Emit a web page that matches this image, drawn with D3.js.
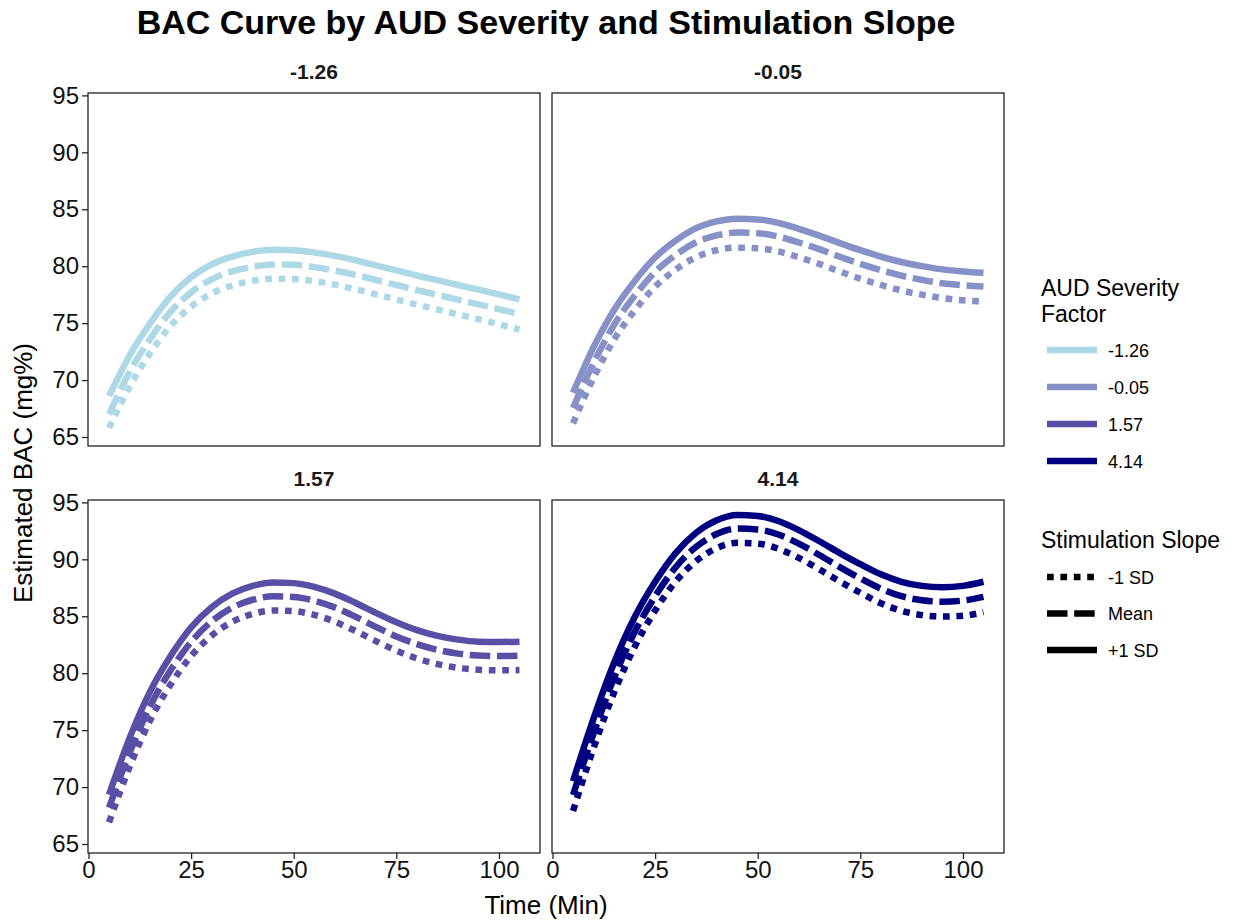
<!DOCTYPE html>
<meta charset="utf-8">
<html>
<head>
<title>BAC Curve</title>
<script src="https://cdn.jsdelivr.net/npm/d3@7"></script>
<style>
  body { margin: 0; background: #fff; }
  text { font-family: "Liberation Sans", Arial, sans-serif; }
</style>
</head>
<body>
<script>
// facet levels and legend entries
var severities = ["-1.26", "-0.05", "1.57", "4.14"]
var severityColors = ["#add8e6", "#8791c8", "#5750a6", "#000080"]
var slopes = ["-1 SD", "Mean", "+1 SD"]
var time = [5, 10, 15, 20, 25, 30, 35, 40, 45, 50, 55, 60, 65, 70, 75, 80, 85, 90, 95, 100, 105]
var xTicks = [0, 25, 50, 75, 100]
var yTicks = [65, 70, 75, 80, 85, 90, 95]

// estimated BAC (one array per severity x slope)
var bac_m126_low  = [65.8, 69.4, 72.35, 74.75, 76.45, 77.6, 78.3, 78.72, 78.9, 78.88, 78.68, 78.38, 77.98, 77.53, 77.08, 76.62, 76.2, 75.77, 75.35, 74.9, 74.44]
var bac_m126_mean = [67.0, 70.7, 73.6, 76.0, 77.7, 78.85, 79.55, 79.95, 80.15, 80.12, 79.92, 79.62, 79.24, 78.8, 78.35, 77.9, 77.48, 77.06, 76.65, 76.23, 75.8]
var bac_m126_high = [68.6, 72.15, 74.97, 77.34, 79.04, 80.16, 80.85, 81.26, 81.44, 81.41, 81.2, 80.91, 80.52, 80.07, 79.63, 79.18, 78.77, 78.35, 77.94, 77.52, 77.08]

var bac_m005_low  = [66.2, 70.2, 73.55, 76.1, 78.2, 79.7, 80.8, 81.4, 81.63, 81.58, 81.3, 80.78, 80.2, 79.53, 78.9, 78.35, 77.87, 77.5, 77.2, 77.0, 76.9]
var bac_m005_mean = [67.55, 71.5, 74.85, 77.4, 79.5, 80.98, 82.1, 82.7, 82.95, 82.9, 82.6, 82.08, 81.5, 80.83, 80.2, 79.65, 79.17, 78.8, 78.5, 78.33, 78.22]
var bac_m005_high = [68.89, 72.89, 76.16, 78.68, 80.76, 82.24, 83.34, 83.93, 84.17, 84.11, 83.81, 83.28, 82.69, 82.03, 81.41, 80.85, 80.37, 80.01, 79.72, 79.54, 79.42]

var bac_157_low  = [66.9, 71.75, 75.85, 79.0, 81.5, 83.3, 84.5, 85.2, 85.5, 85.45, 85.12, 84.52, 83.72, 82.82, 81.98, 81.3, 80.8, 80.47, 80.3, 80.25, 80.27]
var bac_157_mean = [68.2, 73.0, 77.1, 80.25, 82.75, 84.55, 85.75, 86.45, 86.75, 86.7, 86.37, 85.78, 84.97, 84.07, 83.23, 82.55, 82.05, 81.72, 81.55, 81.5, 81.53]
var bac_157_high = [69.33, 74.3, 78.38, 81.5, 84.02, 85.8, 86.99, 87.67, 87.97, 87.91, 87.58, 86.99, 86.19, 85.3, 84.47, 83.78, 83.28, 82.95, 82.77, 82.74, 82.77]

var bac_414_low  = [67.9, 73.4, 78.3, 82.3, 85.5, 88.05, 89.85, 90.98, 91.45, 91.38, 90.93, 90.12, 89.12, 88.06, 87.06, 86.15, 85.48, 85.1, 84.98, 85.05, 85.36]
var bac_414_mean = [69.3, 74.7, 79.6, 83.6, 86.75, 89.3, 91.1, 92.22, 92.7, 92.62, 92.18, 91.38, 90.38, 89.32, 88.32, 87.42, 86.76, 86.4, 86.28, 86.38, 86.7]
var bac_414_high = [70.52, 76.01, 80.91, 84.91, 88.03, 90.55, 92.33, 93.43, 93.9, 93.81, 93.37, 92.57, 91.59, 90.55, 89.57, 88.68, 88.03, 87.67, 87.55, 87.67, 88.03]

var panelSeries = [
    [bac_m126_low, bac_m126_mean, bac_m126_high],
    [bac_m005_low, bac_m005_mean, bac_m005_high],
    [bac_157_low, bac_157_mean, bac_157_high],
    [bac_414_low, bac_414_mean, bac_414_high]
]

var dashes = ["6.7,6.7", "20.5,6.7", null]
var lineW = 6.5

var svg = d3.select("body").append("svg")
    .attr("width", 1238)
    .attr("height", 924)

var panelW = 452, panelH = 353
var panelX = [88, 552], panelY = [93, 500]

var x = d3.scaleLinear().domain([0, 110]).range([0.5, panelW])
var y = d3.scaleLinear().domain([64.21, 95.21]).range([panelH, 0])

var line = d3.line()
    .x(function(d){ return x(d[0]) })
    .y(function(d){ return y(d[1]) })
    .curve(d3.curveMonotoneX)

severities.forEach(function(sev, i){
    var col = i % 2, row = Math.floor(i / 2)
    var g = svg.append("g")
        .attr("transform", "translate(" + panelX[col] + "," + panelY[row] + ")")

    // strip label
    g.append("text")
        .attr("x", panelW / 2)
        .attr("y", -14)
        .attr("text-anchor", "middle")
        .style("font-size", "21px")
        .style("font-weight", "bold")
        .style("fill", "#1a1a1a")
        .text(sev)

    var clip = "clip" + i
    g.append("clipPath").attr("id", clip)
        .append("rect").attr("width", panelW).attr("height", panelH)

    panelSeries[i].forEach(function(vals, j){
        var pts = time.map(function(t, k){ return [t, vals[k]] })
        g.append("path")
            .attr("d", line(pts))
            .attr("clip-path", "url(#" + clip + ")")
            .style("fill", "none")
            .style("stroke", severityColors[i])
            .style("stroke-width", lineW)
            .style("stroke-linecap", "butt")
            .style("stroke-dasharray", dashes[j])
    })

    g.append("rect")
        .attr("width", panelW)
        .attr("height", panelH)
        .style("fill", "none")
        .style("stroke", "#222")
        .style("stroke-width", 1.3)

    if (col == 0) {
        var ya = g.append("g")
            .call(d3.axisLeft(y).tickValues(yTicks).tickSize(6).tickPadding(3))
        ya.select(".domain").remove()
        ya.selectAll("line").style("stroke", "#222").style("stroke-width", 1.3)
        ya.selectAll("text").style("font-size", "24px").style("fill", "#111")
            .style("font-family", "'Liberation Sans', Arial, sans-serif")
    }
    if (row == 1) {
        var xa = g.append("g")
            .attr("transform", "translate(0," + panelH + ")")
            .call(d3.axisBottom(x).tickValues(xTicks).tickSize(6).tickPadding(2))
        xa.select(".domain").remove()
        xa.selectAll("line").style("stroke", "#222").style("stroke-width", 1.3)
        xa.selectAll("text").style("font-size", "24px").style("fill", "#111")
            .style("font-family", "'Liberation Sans', Arial, sans-serif")
    }
})

// titles
svg.append("text")
    .attr("x", 546).attr("y", 34)
    .attr("text-anchor", "middle")
    .style("font-size", "34px").style("font-weight", "bold")
    .text("BAC Curve by AUD Severity and Stimulation Slope")

svg.append("text")
    .attr("x", 546).attr("y", 914)
    .attr("text-anchor", "middle")
    .style("font-size", "26px")
    .text("Time (Min)")

svg.append("text")
    .attr("transform", "translate(32,473) rotate(-90)")
    .attr("text-anchor", "middle")
    .style("font-size", "26px")
    .text("Estimated BAC (mg%)")

// legend: severity colours
var leg1 = svg.append("g")
leg1.append("text").attr("x", 1041).attr("y", 296).style("font-size", "23px").text("AUD Severity")
leg1.append("text").attr("x", 1041).attr("y", 322).style("font-size", "23px").text("Factor")
var legY1 = d3.scalePoint().domain(severities).range([350, 461])
severities.forEach(function(s, i){
    leg1.append("line")
        .attr("x1", 1047).attr("x2", 1097)
        .attr("y1", legY1(s)).attr("y2", legY1(s))
        .style("stroke", severityColors[i]).style("stroke-width", lineW)
    leg1.append("text")
        .attr("x", 1108).attr("y", legY1(s) + 6.5)
        .style("font-size", "18px")
        .text(s)
})

// legend: slope linetypes
var leg2 = svg.append("g")
leg2.append("text").attr("x", 1041).attr("y", 548).style("font-size", "23px").text("Stimulation Slope")
var legY2 = d3.scalePoint().domain(slopes).range([577, 650])
slopes.forEach(function(s, j){
    leg2.append("line")
        .attr("x1", 1047).attr("x2", 1097)
        .attr("y1", legY2(s)).attr("y2", legY2(s))
        .style("stroke", "#000").style("stroke-width", lineW)
        .style("stroke-dasharray", dashes[j])
    leg2.append("text")
        .attr("x", 1108).attr("y", legY2(s) + 6.5)
        .style("font-size", "18px")
        .text(s)
})
</script>
</body>
</html>
